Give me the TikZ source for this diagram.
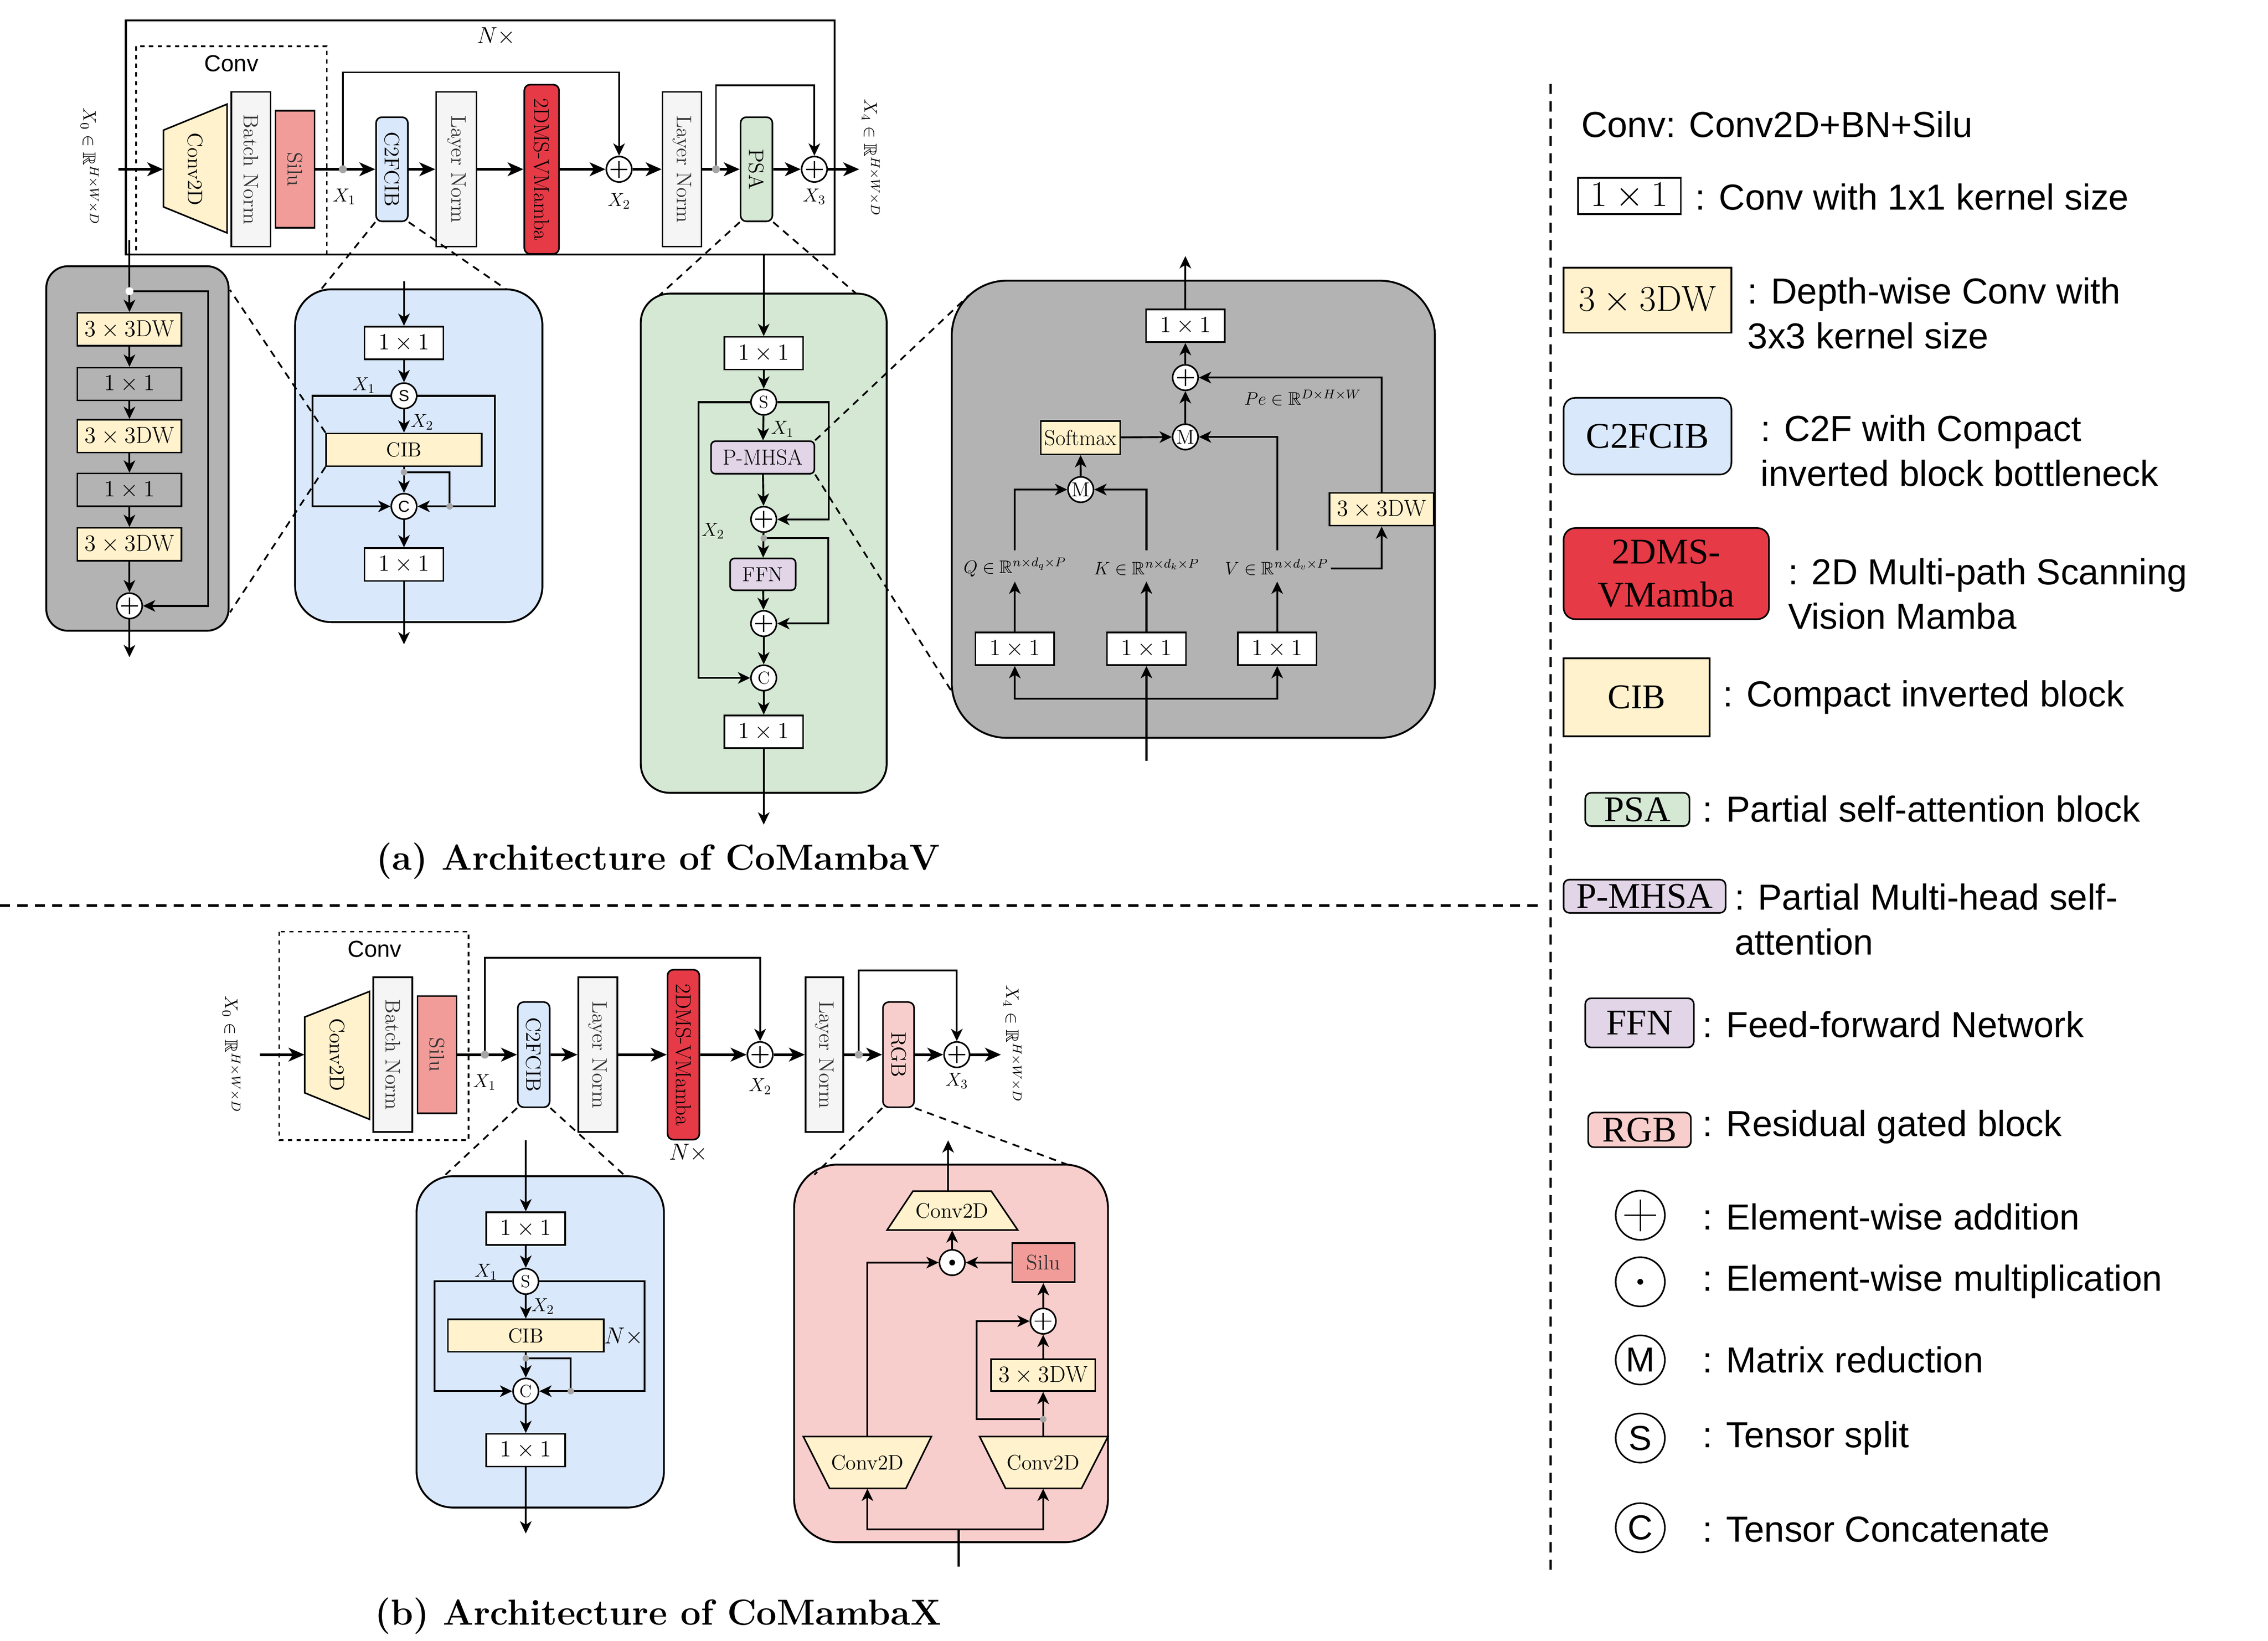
\RequirePackage{fix-cm}
\documentclass[tikz,border=0pt]{standalone}
\usepackage{amsmath,amssymb}
\usepackage{graphicx}
\usepackage{fontspec}
\newfontfamily\lsans{Liberation Sans}
\newfontfamily\lserif{Liberation Serif}
\usetikzlibrary{arrows.meta}
\newcommand{\fsz}[1]{\fontsize{#1}{#1}\selectfont}
\newcommand{\rotlbl}[1]{\rotatebox{-90}{#1}}
\definecolor{cyellow}{HTML}{FFF2CC}
\definecolor{cblue}{HTML}{DAE8FC}
\definecolor{cgreen}{HTML}{D5E8D4}
\definecolor{cpurple}{HTML}{E1D5E7}
\definecolor{cpink}{HTML}{F8CECC}
\definecolor{csilu}{HTML}{F19C99}
\definecolor{cred}{HTML}{E63A46}
\definecolor{cnorm}{HTML}{F5F5F5}
\definecolor{cgray}{HTML}{B3B3B3}
\definecolor{cdot}{HTML}{A6A6A6}
\definecolor{ctext}{HTML}{333333}
\begin{document}
\begin{tikzpicture}[x=1pt,y=-1pt,
  ln/.style={line width=1.3pt},
  arr/.style={-{Stealth[length=8.5pt,width=8pt,inset=2.4pt]}, line width=1.3pt},
  marr/.style={-{Stealth[length=11pt,width=9.5pt,inset=3pt]}, line width=1.8pt},
  blk/.style={draw, line width=1.1pt, inner sep=0pt, font=\fsz{16}},
  k11/.style={blk, fill=white, minimum width=54.5pt, minimum height=22.6pt},
  kdw/.style={blk, fill=cyellow, minimum width=72pt, minimum height=22.7pt},
  vbox/.style={blk, font=\fsz{14.5}, text=ctext},
  opl/.style={circle, draw, fill=white, line width=1.1pt, minimum size=17.6pt, inner sep=0pt,
    path picture={\draw[line width=0.9pt] ([xshift=-5.8pt]path picture bounding box.center) -- ([xshift=5.8pt]path picture bounding box.center);
      \draw[line width=0.9pt] ([yshift=-5.8pt]path picture bounding box.center) -- ([yshift=5.8pt]path picture bounding box.center);}},
  odt/.style={circle, draw, fill=white, line width=1.1pt, minimum size=17.6pt, inner sep=0pt,
    path picture={\fill[black] (path picture bounding box.center) circle (2pt);}},
  sym/.style={circle, draw, fill=white, line width=1.1pt, minimum size=17.6pt, inner sep=0pt},
  gdot/.style={circle, fill=cdot, minimum size=5.5pt, inner sep=0pt},
  wdot/.style={circle, fill=white, minimum size=5.5pt, inner sep=0pt},
  lbl/.style={inner sep=0pt, font=\fsz{13}},
  zoomln/.style={line width=1.2pt, dash pattern=on 5pt off 4pt},
  panel/.style={draw, line width=1.3pt},
  lgt/.style={anchor=west, inner sep=0pt, align=left, font=\lsans\fontsize{25}{31}\selectfont},
  lopl/.style={circle, draw, line width=1.1pt, minimum size=34pt, inner sep=0pt,
    path picture={\draw[line width=0.9pt] ([xshift=-11pt]path picture bounding box.center) -- ([xshift=11pt]path picture bounding box.center);
      \draw[line width=0.9pt] ([yshift=-11pt]path picture bounding box.center) -- ([yshift=11pt]path picture bounding box.center);}},
  lsym/.style={circle, draw, line width=1.1pt, minimum size=34pt, inner sep=0pt, font=\lsans\fsz{24}},
  sep/.style={line width=1.8pt, dash pattern=on 7pt off 5pt},
]
\useasboundingbox (0,0) rectangle (1568,1134);

%% ================= (a) =================
\draw[line width=1.3pt] (87,14) rectangle (577,176);
\node[font=\fsz{16}] (aN) at (343,25) {$N\times$};
\draw[dashed, line width=1.1pt] (94,32) rectangle (226,176);
\node[font=\lsans\fsz{16}] (aconv) at (160,44) {Conv};
\node[lbl, rotate=-90, font=\fsz{12.5}] (ax0) at (62,115) {$X_0\in\mathbb{R}^{H\times W\times D}$};
\coordinate (ain) at (82,117);
\draw[line width=1.1pt, fill=cyellow] (113,90) -- (157,72) -- (157,161) -- (113,143) -- cycle;
\node[inner sep=0pt, minimum width=44pt, minimum height=52pt, font=\fsz{14.5}] (ac2d) at (135,117) {\rotlbl{Conv2D}};
\node[vbox, fill=cnorm, minimum width=27pt, minimum height=107pt] (abn) at (173.5,117) {\rotlbl{Batch Norm}};
\node[vbox, fill=csilu, minimum width=27pt, minimum height=81pt] (asilu) at (204,117) {\rotlbl{Silu}};
\coordinate (adot1) at (237,117);
\node[vbox, text=black, fill=cblue, rounded corners=4pt, minimum width=22pt, minimum height=72pt] (ac2f) at (271,117) {\rotlbl{C2FCIB}};
\node[vbox, fill=cnorm, minimum width=28pt, minimum height=107pt] (aln1) at (315.5,117) {\rotlbl{Layer Norm}};
\node[vbox, text=black, fill=cred, rounded corners=4pt, minimum width=24pt, minimum height=117pt, font=\fsz{15}] (amam) at (374.5,117) {\rotlbl{2DMS-VMamba}};
\node[opl] (ap1) at (428,117) {};
\node[vbox, fill=cnorm, minimum width=27pt, minimum height=107pt] (aln2) at (471.5,117) {\rotlbl{Layer Norm}};
\coordinate (adot2) at (495,117);
\node[vbox, text=black, fill=cgreen, rounded corners=4pt, minimum width=22pt, minimum height=72pt] (apsa) at (523,117) {\rotlbl{PSA}};
\node[opl] (ap2) at (563,117) {};
\coordinate (aout) at (594,117);
\node[lbl, rotate=-90, font=\fsz{12.5}] (ax4) at (602,109) {$X_4\in\mathbb{R}^{H\times W\times D}$};
\node[lbl] (ax1) at (238,136) {$X_1$};
\node[lbl] (ax2) at (428,139) {$X_2$};
\node[lbl] (ax3) at (563,136) {$X_3$};
\draw[marr] (ain) -- (ac2d);
\draw[marr] (asilu) -- (ac2f);
\draw[marr] (ac2f) -- (aln1);
\draw[marr] (aln1) -- (amam);
\draw[marr] (amam) -- (ap1);
\draw[marr] (ap1) -- (aln2);
\draw[marr] (aln2) -- (apsa);
\draw[marr] (apsa) -- (ap2);
\draw[marr] (ap2) -- (aout);
\draw[arr, line width=1.2pt] (adot1) -- ++(0,-67) -| (ap1);
\draw[arr, line width=1.2pt] (adot2) -- ++(0,-58) -| (ap2);
\node[gdot] (adot1n) at (adot1) {};
\node[gdot] (adot2n) at (adot2) {};

%% gray CIB detail
\draw[panel, fill=cgray, rounded corners=15pt] (32,184) rectangle (158,436);
\coordinate (agtop) at (89.5,166);
\coordinate (agd) at (89.5,201.3);
\node[kdw] (adw1) at (89.5,227.6) {$3\times3\mathrm{DW}$};
\node[k11, fill=none, minimum width=72pt] (ak1) at (89.5,265.4) {$1\times1$};
\node[kdw] (adw2) at (89.5,301.5) {$3\times3\mathrm{DW}$};
\node[k11, fill=none, minimum width=72pt] (ak2) at (89.5,338.6) {$1\times1$};
\node[kdw] (adw3) at (89.5,376.2) {$3\times3\mathrm{DW}$};
\node[opl] (agp) at (89.5,418.8) {};
\coordinate (agout) at (89.5,454.3);
\draw[arr] (agtop) -- (adw1);
\draw[arr] (adw1) -- (ak1);
\draw[arr] (ak1) -- (adw2);
\draw[arr] (adw2) -- (ak2);
\draw[arr] (ak2) -- (adw3);
\draw[arr] (adw3) -- (agp);
\draw[arr] (agp) -- (agout);
\draw[arr] (agd) -- ++(54.5,0) |- (agp);
\node[wdot] (agdn) at (agd) {};

%% blue C2FCIB detail (a)
\draw[panel, fill=cblue, rounded corners=25pt] (204,200) rectangle (375,430);
\coordinate (abin) at (279.3,194.5);
\node[k11] (ab1) at (279.3,237.1) {$1\times1$};
\node[sym, font=\lsans\fsz{11}] (abS) at (279.3,273.6) {S};
\node[blk, fill=cyellow, minimum width=107.5pt, minimum height=22.6pt, font=\fsz{14}] (abcib) at (279.3,310.9) {CIB};
\node[sym, font=\lsans\fsz{11}] (abC) at (279.3,350) {C};
\node[k11] (ab2) at (279.3,390.2) {$1\times1$};
\coordinate (about) at (279.3,445.4);
\coordinate (abd1) at (279.3,326.4);
\coordinate (abd2) at (310.9,350);
\draw[arr] (abin) -- (ab1);
\draw[arr] (ab1) -- (abS);
\draw[arr] (abS) -- (abcib);
\draw[arr] (abcib) -- (abC);
\draw[arr] (abC) -- (ab2);
\draw[arr] (ab2) -- (about);
\draw[arr] (abS.west) -- ++(-53.9,0) |- (abC);
\draw[arr] (abS.east) -- ++(53.6,0) |- (abC);
\draw[ln] (abd1) -| (abd2);
\node[gdot, minimum size=4.5pt] (abd1n) at (abd1) {};
\node[gdot, minimum size=4.5pt] (abd2n) at (abd2) {};
\node[lbl] (abx1) at (251.6,266.4) {$X_1$};
\node[lbl] (abx2) at (291.8,291.8) {$X_2$};

%% zoom lines (a)
\coordinate (zb1) at (222,200);
\coordinate (zb2) at (350,200);
\coordinate (zg1) at (159,200.4);
\coordinate (zg2) at (159,423.3);
\draw[zoomln] (ac2f.south west) -- (zb1);
\draw[zoomln] (ac2f.south east) -- (zb2);
\draw[zoomln] (abcib.north west) -- (zg1);
\draw[zoomln] (abcib.south west) -- (zg2);

%% green PSA detail
\draw[panel, fill=cgreen, rounded corners=20pt] (443,203) rectangle (613,548);
\coordinate (agin) at (528,176);
\node[k11] (ag1) at (528,244.2) {$1\times1$};
\node[sym, font=\fsz{12}] (agS) at (528,278) {S};
\node[blk, fill=cpurple, rounded corners=3pt, minimum width=71.4pt, minimum height=22.5pt, font=\fsz{15}] (agmh) at (527.3,316.2) {P-MHSA};
\node[opl] (agp1) at (528,359) {};
\coordinate (agdd) at (528,372);
\node[blk, fill=cpurple, rounded corners=3pt, minimum width=45.3pt, minimum height=22pt, font=\fsz{14}] (agffn) at (527.4,397) {FFN};
\node[opl] (agp2) at (528,431) {};
\node[sym, font=\fsz{12}] (agC) at (528,468.6) {C};
\node[k11] (ag2) at (528,505.8) {$1\times1$};
\coordinate (agout2) at (528,570);
\coordinate (zp1) at (670,204);
\coordinate (zp2) at (658,478);
\coordinate (zs1) at (456,204);
\coordinate (zs2) at (592,203);
\draw[zoomln] (apsa.south west) -- (zs1);
\draw[zoomln] (apsa.south east) -- (zs2);
\draw[zoomln] (agmh.north east) -- (zp1);
\draw[zoomln] (agmh.south east) -- (zp2);
\draw[arr] (agin) -- (ag1);
\draw[arr] (ag1) -- (agS);
\draw[arr] (agS) -- (agmh);
\draw[arr] (agmh) -- (agp1);
\draw[arr] (agp1) -- (agffn);
\draw[arr] (agffn) -- (agp2);
\draw[arr] (agp2) -- (agC);
\draw[arr] (agC) -- (ag2);
\draw[arr] (ag2) -- (agout2);
\draw[arr] (agS.west) -- ++(-35.7,0) |- (agC);
\draw[arr] (agS.east) -- ++(35.5,0) |- (agp1);
\draw[arr] (agdd) -- ++(44.5,0) |- (agp2);
\node[gdot, minimum size=4.5pt] (agddn) at (agdd) {};
\node[lbl] (agx1) at (541,296.6) {$X_1$};
\node[lbl] (agx2) at (493,367) {$X_2$};

%% attention detail
\draw[panel, fill=cgray, rounded corners=38pt] (658,194) rectangle (992,510);
\node[k11] (at1) at (819.5,225.2) {$1\times1$};
\coordinate (atout) at (819.5,177);
\node[opl] (atp) at (819.5,261) {};
\node[sym, font=\fsz{14}] (atM1) at (819.5,302) {M};
\node[blk, fill=cyellow, minimum width=55pt, minimum height=23pt, font=\fsz{15}] (atsm) at (747,302.5) {Softmax};
\node[sym, font=\fsz{14}] (atM2) at (747.2,338.4) {M};
\node[kdw] (atdw) at (955.2,352) {$3\times3\mathrm{DW}$};
\node[lbl, font=\fsz{12.5}] (atQ) at (701.6,392) {$Q\in\mathbb{R}^{n\times d_q\times P}$};
\node[lbl, font=\fsz{12.5}] (atK) at (792.6,392) {$K\in\mathbb{R}^{n\times d_k\times P}$};
\node[lbl, font=\fsz{12.5}] (atV) at (882.6,392) {$V\in\mathbb{R}^{n\times d_v\times P}$};
\node[lbl, font=\fsz{12.5}] (atPe) at (900.6,275) {$Pe\in\mathbb{R}^{D\times H\times W}$};
\node[k11] (atq) at (701.6,448.5) {$1\times1$};
\node[k11] (atk) at (792.6,448.5) {$1\times1$};
\node[k11] (atv) at (883,448.5) {$1\times1$};
\coordinate (atin) at (792.6,526);
\coordinate (atbj) at (792.6,483);
\coordinate (aqt) at (701.6,380.5);
\coordinate (akt) at (792.6,380.5);
\coordinate (avt) at (883,380.5);
\coordinate (aqb) at (701.6,402);
\coordinate (akb) at (792.6,402);
\coordinate (avb) at (883,402);
\coordinate (avr) at (920,393);
\draw[ln] (atin) -- (atbj);
\draw[arr] (atbj) -- (atk);
\draw[arr] (atbj) -| (atq);
\draw[arr] (atbj) -| (atv);
\draw[arr] (atq) -- (aqb);
\draw[arr] (atk) -- (akb);
\draw[arr] (atv) -- (avb);
\draw[arr] (aqt) |- (atM2);
\draw[arr] (akt) |- (atM2);
\draw[arr] (avt) |- (atM1);
\draw[arr] (avr) -| (atdw);
\draw[arr] (atdw) |- (atp);
\draw[arr] (atM2) -- (atsm);
\draw[arr] (atsm) -- (atM1);
\draw[arr] (atM1) -- (atp);
\draw[arr] (atp) -- (at1);
\draw[arr] (at1) -- (atout);

\node[font=\bfseries\fsz{25}] (capa) at (455,595) {(a) Architecture of CoMambaV};

%% separators
\draw[sep] (0,626) -- (1068,626);
\draw[sep] (1072,58) -- (1072,1088);

%% ================= (b) =================
\draw[dashed, line width=1.1pt] (193,644) rectangle (324,788);
\node[font=\lsans\fsz{16}] (bconv) at (259,656) {Conv};
\node[lbl, rotate=-90, font=\fsz{12.5}] (bx0) at (160,728.5) {$X_0\in\mathbb{R}^{H\times W\times D}$};
\coordinate (bin) at (179.6,729);
\draw[line width=1.1pt, fill=cyellow] (210.7,703) -- (255.5,685.3) -- (255.5,773.7) -- (210.7,755.4) -- cycle;
\node[inner sep=0pt, minimum width=44.8pt, minimum height=52pt, font=\fsz{14.5}] (bc2d) at (233.1,729) {\rotlbl{Conv2D}};
\node[vbox, fill=cnorm, minimum width=27pt, minimum height=107pt] (bbn) at (271.6,729) {\rotlbl{Batch Norm}};
\node[vbox, fill=csilu, minimum width=27pt, minimum height=81pt] (bsilu) at (302.2,729) {\rotlbl{Silu}};
\coordinate (bdot1) at (335.2,729);
\node[vbox, text=black, fill=cblue, rounded corners=4pt, minimum width=22pt, minimum height=72.7pt] (bc2f) at (369,729) {\rotlbl{C2FCIB}};
\node[vbox, fill=cnorm, minimum width=27pt, minimum height=107pt] (bln1) at (413.3,729) {\rotlbl{Layer Norm}};
\node[vbox, text=black, fill=cred, rounded corners=4pt, minimum width=22pt, minimum height=117.4pt, font=\fsz{15}] (bmam) at (472.5,729) {\rotlbl{2DMS-VMamba}};
\node[font=\fsz{16}] (bN) at (476,797) {$N\times$};
\node[opl] (bp1) at (525.5,729) {};
\node[vbox, fill=cnorm, minimum width=26pt, minimum height=107pt] (bln2) at (570,729) {\rotlbl{Layer Norm}};
\coordinate (bdot2) at (593.7,729);
\node[vbox, text=black, fill=cpink, rounded corners=4pt, minimum width=21.5pt, minimum height=72.7pt] (brgb) at (621.2,729) {\rotlbl{RGB}};
\node[opl] (bp2) at (661.5,729) {};
\coordinate (bout) at (692,729);
\node[lbl, rotate=-90, font=\fsz{12.5}] (bx4) at (700,721.5) {$X_4\in\mathbb{R}^{H\times W\times D}$};
\node[lbl] (bx1) at (335,748) {$X_1$};
\node[lbl] (bx2) at (525.5,751) {$X_2$};
\node[lbl] (bx3) at (661.5,747) {$X_3$};
\draw[marr] (bin) -- (bc2d);
\draw[marr] (bsilu) -- (bc2f);
\draw[marr] (bc2f) -- (bln1);
\draw[marr] (bln1) -- (bmam);
\draw[marr] (bmam) -- (bp1);
\draw[marr] (bp1) -- (bln2);
\draw[marr] (bln2) -- (brgb);
\draw[marr] (brgb) -- (bp2);
\draw[marr] (bp2) -- (bout);
\draw[arr, line width=1.2pt] (bdot1) -- ++(0,-67) -| (bp1);
\draw[arr, line width=1.2pt] (bdot2) -- ++(0,-58.2) -| (bp2);
\node[gdot] (bdot1n) at (bdot1) {};
\node[gdot] (bdot2n) at (bdot2) {};

%% blue C2FCIB detail (b)
\draw[panel, fill=cblue, rounded corners=25pt] (288,813) rectangle (459,1042);
\coordinate (zbb1) at (308,812);
\coordinate (zbb2) at (431.3,812);
\draw[zoomln] (bc2f.south west) -- (zbb1);
\draw[zoomln] (bc2f.south east) -- (zbb2);
\coordinate (bbin) at (363.5,788);
\node[k11] (bb1) at (363.5,849.2) {$1\times1$};
\node[sym, font=\fsz{12}] (bbS) at (363.5,885.7) {S};
\node[blk, fill=cyellow, minimum width=107.7pt, minimum height=22.4pt, font=\fsz{14}] (bbcib) at (363.5,923.2) {CIB};
\node[font=\fsz{16}, inner sep=0pt] (bbN) at (431.3,923.8) {$N\times$};
\node[sym, font=\fsz{12}] (bbC) at (363.5,961.6) {C};
\node[k11] (bb2) at (363.5,1002.4) {$1\times1$};
\coordinate (bbout) at (363.5,1060);
\coordinate (bbd1) at (363.5,938.9);
\coordinate (bbd2) at (394.6,961.6);
\draw[arr] (bbin) -- (bb1);
\draw[arr] (bb1) -- (bbS);
\draw[arr] (bbS) -- (bbcib);
\draw[arr] (bbcib) -- (bbC);
\draw[arr] (bbC) -- (bb2);
\draw[arr] (bb2) -- (bbout);
\draw[arr] (bbS.west) -- ++(-53.8,0) |- (bbC);
\draw[arr] (bbS.east) -- ++(72.8,0) |- (bbC);
\draw[ln] (bbd1) -| (bbd2);
\node[gdot, minimum size=4.5pt] (bbd1n) at (bbd1) {};
\node[gdot, minimum size=4.5pt] (bbd2n) at (bbd2) {};
\node[lbl] (bbx1) at (336,879.3) {$X_1$};
\node[lbl] (bbx2) at (375.3,903) {$X_2$};

%% pink RGB detail
\draw[panel, fill=cpink, rounded corners=30pt] (549,805) rectangle (766,1066);
\coordinate (zr1) at (563,812);
\coordinate (zr2) at (738,805);
\draw[zoomln] (brgb.south west) -- (zr1);
\draw[zoomln] (brgb.south east) -- (zr2);
\draw[line width=1.1pt, fill=cyellow] (631.2,823.3) -- (685.3,823.3) -- (703.6,850.2) -- (613.3,850.2) -- cycle;
\node[inner sep=0pt, minimum width=54pt, minimum height=26.9pt, font=\fsz{14.5}] (bpc1) at (658.3,836.75) {Conv2D};
\coordinate (bpc1t) at (655.5,823.3);
\coordinate (bpout) at (655.5,788.2);
\node[odt] (bpdot) at (658.3,872.7) {};
\node[blk, fill=csilu, minimum width=43.2pt, minimum height=27.1pt, font=\fsz{14.5}, text=ctext] (bpsilu) at (721.4,872.75) {Silu};
\node[opl] (bpp) at (721.2,913.2) {};
\node[kdw, minimum height=22pt] (bpdw) at (721.2,950.5) {$3\times3\mathrm{DW}$};
\coordinate (bpd) at (721.2,981);
\draw[line width=1.1pt, fill=cyellow] (555.4,993) -- (643.9,993) -- (626.3,1028.8) -- (573.5,1028.8) -- cycle;
\node[inner sep=0pt, minimum width=52pt, minimum height=35.8pt, font=\fsz{14.5}] (bpc2) at (599.7,1010.9) {Conv2D};
\draw[line width=1.1pt, fill=cyellow] (677.3,993) -- (766,993) -- (747.7,1028.8) -- (695.2,1028.8) -- cycle;
\node[inner sep=0pt, minimum width=52pt, minimum height=35.8pt, font=\fsz{14.5}] (bpc3) at (721.2,1010.9) {Conv2D};
\coordinate (bpin) at (662.8,1083);
\coordinate (bpj) at (662.8,1057);
\draw[ln] (bpin) -- (bpj);
\draw[arr] (bpj) -| (bpc2);
\draw[arr] (bpj) -| (bpc3);
\draw[arr] (bpc2.north) |- (bpdot);
\draw[arr] (bpc3) -- (bpdw);
\draw[arr] (bpdw) -- (bpp);
\draw[arr] (bpp) -- (bpsilu);
\draw[arr] (bpsilu) -- (bpdot);
\draw[arr] (bpdot) -- (bpc1);
\draw[arr] (bpc1t) -- (bpout);
\draw[arr] (bpd) -- ++(-45.9,0) |- (bpp);
\node[gdot, minimum size=4.5pt] (bpdn) at (bpd) {};

\node[font=\bfseries\fsz{25}] (capb) at (455,1117) {(b) Architecture of CoMambaX};

%% ================= legend =================
\node[lgt] (t0) at (1093,86) {Conv: Conv2D+BN+Silu};
\node[blk, fill=white, minimum width=71pt, minimum height=25pt, font=\fsz{25}] (l1) at (1126.5,135.5) {$1\times1$};
\node[lgt] (t1) at (1172,136) {: Conv with 1x1 kernel size};
\node[blk, fill=cyellow, minimum width=116pt, minimum height=45pt, font=\fsz{25}] (l2) at (1139,207.5) {$3\times3\mathrm{DW}$};
\node[lgt] (t2) at (1208,216.5) {: Depth-wise Conv with\\3x3 kernel size};
\node[blk, fill=cblue, rounded corners=8pt, minimum width=116pt, minimum height=53pt, font=\lserif\fsz{25}] (l3) at (1139,301.5) {C2FCIB};
\node[lgt] (t3) at (1217,311.5) {: C2F with Compact\\inverted block bottleneck};
\node[blk, fill=cred, rounded corners=8pt, minimum width=142pt, minimum height=63pt, font=\lserif\fontsize{25}{30}\selectfont, align=center] (l4) at (1152,396.5) {2DMS-\\VMamba};
\node[lgt] (t4) at (1236,410.5) {: 2D Multi-path Scanning\\Vision Mamba};
\node[blk, fill=cyellow, minimum width=101pt, minimum height=54pt, font=\lserif\fsz{24}] (l5) at (1131.5,482) {CIB};
\node[lgt] (t5) at (1191,482) {: Compact inverted block};
\node[blk, fill=cgreen, rounded corners=4pt, minimum width=72pt, minimum height=23pt, font=\lserif\fsz{25}] (l6) at (1132,559.5) {PSA};
\node[lgt] (t6) at (1177,559) {: Partial self-attention block};
\node[blk, fill=cpurple, rounded corners=4pt, minimum width=112pt, minimum height=23pt, font=\lserif\fsz{25}] (l7) at (1137,619.5) {P-MHSA};
\node[lgt] (t7) at (1199,635.5) {: Partial Multi-head self-\\attention};
\node[blk, fill=cpurple, rounded corners=4pt, minimum width=75pt, minimum height=34pt, font=\lserif\fsz{25}] (l8) at (1133.5,707) {FFN};
\node[lgt] (t8) at (1177,708) {: Feed-forward Network};
\node[blk, fill=cpink, rounded corners=4pt, minimum width=71pt, minimum height=24pt, font=\lserif\fsz{25}] (l9) at (1133.5,781) {RGB};
\node[lgt] (t9) at (1177,779) {: Residual gated block};
\node[lopl] (l10) at (1134,840) {};
\node[lgt] (t10) at (1177,841) {: Element-wise addition};
\node[circle, draw, line width=1.1pt, minimum size=34pt, inner sep=0pt,
  path picture={\fill (path picture bounding box.center) circle (2pt);}] (l11) at (1134,886) {};
\node[lgt] (t11) at (1177,886) {: Element-wise multiplication};
\node[lsym] (l12) at (1134,940) {M};
\node[lgt] (t12) at (1177,940) {: Matrix reduction};
\node[lsym] (l13) at (1134,994) {S};
\node[lgt] (t13) at (1177,994) {: Tensor split};
\node[lsym] (l14) at (1134,1056) {C};
\node[lgt] (t14) at (1177,1057) {: Tensor Concatenate};
\end{tikzpicture}
\end{document}
